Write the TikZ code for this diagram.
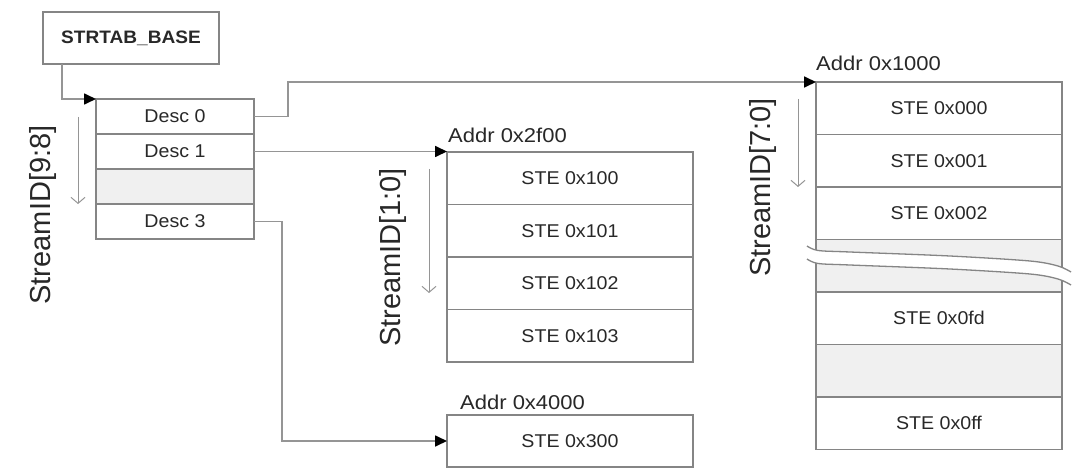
\documentclass[tikz,border=0pt]{standalone}
\usepackage{fontspec}
\setmainfont{Liberation Sans}
\newfontfamily\lblfont[FakeStretch=1.06]{Liberation Sans}
\newfontfamily\addrfont[FakeStretch=1.1]{Liberation Sans}
\usetikzlibrary{arrows.meta}
\definecolor{txt}{HTML}{282828}
\definecolor{bord}{HTML}{858585}
\definecolor{conncol}{HTML}{959595}
\definecolor{cellgray}{HTML}{F0F0F0}
\tikzset{
  cellbox/.style={draw=bord, line width=1.3pt, rectangle, inner sep=0pt, outer sep=0pt,
    text=txt, font=\lblfont\fontsize{18.5}{21}\selectfont},
  desccell/.style={cellbox, minimum width=158pt, minimum height=35pt},
  stecell/.style={cellbox, minimum width=246pt, minimum height=52.5pt},
  graycell/.style={fill=cellgray},
  conn/.style={draw=conncol, line width=1.7pt, -{Triangle[length=12pt,width=11pt,color=black]}},
  idarrow/.style={draw=conncol, line width=1pt, -{Straight Barb[length=6pt,width=14pt]}},
  addrlabel/.style={anchor=base west, inner sep=0pt, text=txt, font=\addrfont\fontsize{20}{22}\selectfont},
  idlabel/.style={rotate=90, inner sep=0pt, text=txt, font=\fontsize{29}{32}\selectfont},
  breakline/.style={draw=bord, line width=1.3pt}
}
\begin{document}
\begin{tikzpicture}[x=1pt,y=-1pt]
\useasboundingbox[fill=white] (0,0) rectangle (1078,473);

% base register
\node[cellbox, minimum width=176pt, minimum height=52pt,
  font=\lblfont\fontsize{18}{20}\selectfont\bfseries] (base) at (131,38) {STRTAB\_BASE};

% level-1 descriptor table
\node[desccell] (d0) at (175,116.5) {Desc 0};
\node[desccell] (d1) at (175,151.5) {Desc 1};
\node[desccell, graycell] (d2) at (175,186.5) {};
\node[desccell] (d3) at (175,221.5) {Desc 3};

% middle table
\node[stecell] (m0) at (570,178.25) {STE 0x100};
\node[stecell] (m1) at (570,230.75) {STE 0x101};
\node[stecell] (m2) at (570,283.25) {STE 0x102};
\node[stecell] (m3) at (570,335.75) {STE 0x103};
\node[addrlabel] (ma) at (448,143) {Addr 0x2f00};

% bottom table
\node[cellbox, minimum width=246pt, minimum height=52pt] (b0) at (570,441) {STE 0x300};
\node[addrlabel] (ba) at (460,409) {Addr 0x4000};

% right table
\node[stecell] (r0) at (939,108.25) {STE 0x000};
\node[stecell] (r1) at (939,160.75) {STE 0x001};
\node[stecell] (r2) at (939,213.25) {STE 0x002};
\node[stecell, graycell] (r3) at (939,265.75) {};
\node[stecell] (r4) at (939,318.25) {STE 0x0fd};
\node[stecell, graycell] (r5) at (939,370.75) {};
\node[stecell] (r6) at (939,423.25) {STE 0x0ff};
\node[addrlabel] (ra) at (816,71) {Addr 0x1000};

% break in the right table
\fill[white] plot[smooth] coordinates {(807,246) (818,250.5) (850,252) (950,256) (1030,261) (1058,266) (1071,272)}
  -- plot[smooth] coordinates {(1071,285) (1058,279) (1030,274) (950,269) (850,265) (818,263.5) (807,259)} -- cycle;
\draw[breakline] plot[smooth] coordinates {(807,246) (818,250.5) (850,252) (950,256) (1030,261) (1058,266) (1071,272)};
\draw[breakline] plot[smooth] coordinates {(807,259) (818,263.5) (850,265) (950,269) (1030,274) (1058,279) (1071,285)};

% connectors
\coordinate (bout) at ([xshift=-69pt]base.south);
\draw[conn] (bout) |- (d0.north west);
\draw[conn] (d0.east) -- ++(34,0) |- (r0.north west);
\draw[conn] (d1.east) -- (d1.east -| m0.north west);
\draw[conn] (d3.east) -- ++(28,0) |- (b0.west);

% StreamID labels and arrows
\node[idlabel] (id98) at (43,215) {StreamID[9:8]};
\coordinate (a98s) at (78,117);
\coordinate (a98e) at (78,204);
\draw[idarrow] (a98s) -- (a98e);

\node[idlabel] (id10) at (393,257.5) {StreamID[1:0]};
\coordinate (a10s) at (429,169);
\coordinate (a10e) at (429,293);
\draw[idarrow] (a10s) -- (a10e);

\node[idlabel] (id70) at (763,187.5) {StreamID[7:0]};
\coordinate (a70s) at (798,99);
\coordinate (a70e) at (798,187);
\draw[idarrow] (a70s) -- (a70e);
\end{tikzpicture}
\end{document}
